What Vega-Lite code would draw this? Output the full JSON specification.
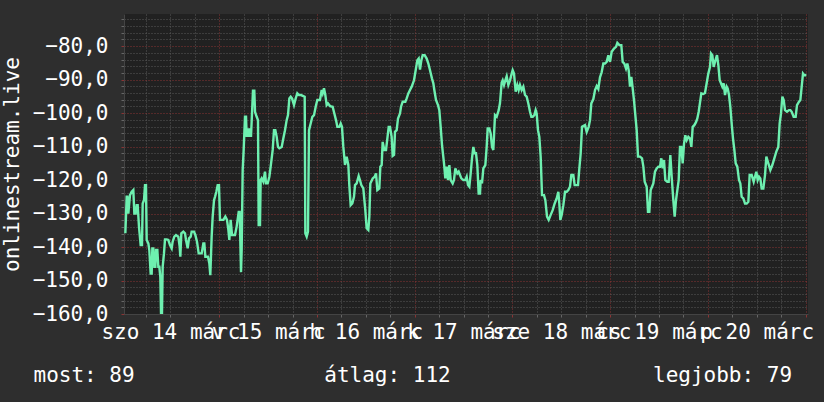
{
"$schema": "https://vega.github.io/schema/vega-lite/v6.json",
"autosize": "none",
"width": 684,
"height": 300,
"padding": {"left": 124, "top": 14, "right": 16, "bottom": 88},
"background": "#2e2e2e",
"config": {"view": {"fill": "#212121", "stroke": null}, "font": "DejaVu Sans Mono"},
"data": {"values": [
{"t":0.93,"v":-135.9},{"t":1.26,"v":-125.0},{"t":1.42,"v":-125.0},{"t":1.66,"v":-130.0},{"t":2.07,"v":-124.5},{"t":2.48,"v":-123.5},{"t":2.89,"v":-123.0},{"t":3.14,"v":-130.0},{"t":3.47,"v":-130.0},{"t":3.71,"v":-127.5},{"t":3.96,"v":-127.5},{"t":4.28,"v":-133.9},{"t":4.69,"v":-139.4},{"t":5.02,"v":-139.4},{"t":5.19,"v":-127.0},{"t":5.51,"v":-126.0},{"t":5.76,"v":-121.5},{"t":6.00,"v":-121.5},{"t":6.17,"v":-137.9},{"t":6.58,"v":-138.9},{"t":6.82,"v":-140.9},{"t":7.15,"v":-147.9},{"t":7.40,"v":-147.9},{"t":7.56,"v":-140.4},{"t":7.80,"v":-140.4},{"t":8.05,"v":-145.9},{"t":8.30,"v":-145.9},{"t":8.46,"v":-140.9},{"t":8.79,"v":-140.9},{"t":9.03,"v":-145.9},{"t":9.28,"v":-145.9},{"t":9.52,"v":-148.9},{"t":9.69,"v":-159.8},{"t":9.93,"v":-159.8},{"t":10.10,"v":-145.9},{"t":10.42,"v":-141.9},{"t":10.67,"v":-137.7},{"t":11.08,"v":-137.7},{"t":11.49,"v":-137.9},{"t":11.90,"v":-139.4},{"t":12.31,"v":-140.4},{"t":12.55,"v":-138.4},{"t":12.96,"v":-136.9},{"t":13.37,"v":-136.4},{"t":13.94,"v":-136.9},{"t":14.27,"v":-139.9},{"t":14.44,"v":-142.9},{"t":14.68,"v":-135.9},{"t":15.17,"v":-135.4},{"t":15.58,"v":-135.9},{"t":15.83,"v":-137.9},{"t":16.24,"v":-140.4},{"t":16.57,"v":-137.4},{"t":16.98,"v":-136.9},{"t":17.22,"v":-135.4},{"t":17.79,"v":-135.4},{"t":18.12,"v":-136.4},{"t":18.53,"v":-138.4},{"t":18.94,"v":-141.9},{"t":19.68,"v":-141.9},{"t":20.09,"v":-138.9},{"t":20.33,"v":-138.9},{"t":20.58,"v":-142.9},{"t":21.23,"v":-142.9},{"t":21.56,"v":-144.9},{"t":21.80,"v":-148.4},{"t":22.13,"v":-136.9},{"t":22.38,"v":-130.9},{"t":22.71,"v":-126.0},{"t":22.95,"v":-125.0},{"t":23.28,"v":-123.5},{"t":23.61,"v":-121.5},{"t":23.93,"v":-121.5},{"t":24.18,"v":-131.9},{"t":25.00,"v":-131.9},{"t":25.49,"v":-130.9},{"t":25.90,"v":-131.9},{"t":26.23,"v":-134.9},{"t":26.47,"v":-137.9},{"t":26.80,"v":-131.9},{"t":27.13,"v":-136.4},{"t":27.86,"v":-136.4},{"t":28.27,"v":-133.9},{"t":28.77,"v":-129.5},{"t":29.01,"v":-129.5},{"t":29.34,"v":-147.5},{"t":29.50,"v":-140.9},{"t":29.75,"v":-117.0},{"t":29.99,"v":-111.0},{"t":30.32,"v":-101.1},{"t":30.57,"v":-101.1},{"t":30.73,"v":-107.1},{"t":30.98,"v":-104.6},{"t":31.22,"v":-107.1},{"t":31.55,"v":-104.6},{"t":31.79,"v":-107.1},{"t":32.04,"v":-100.1},{"t":32.28,"v":-93.3},{"t":32.61,"v":-93.3},{"t":32.78,"v":-99.6},{"t":33.19,"v":-101.1},{"t":33.51,"v":-102.1},{"t":33.68,"v":-133.4},{"t":34.00,"v":-133.4},{"t":34.17,"v":-120.0},{"t":34.41,"v":-119.5},{"t":34.82,"v":-120.5},{"t":35.23,"v":-117.5},{"t":35.48,"v":-121.0},{"t":35.89,"v":-121.0},{"t":36.30,"v":-119.0},{"t":36.62,"v":-116.0},{"t":36.87,"v":-113.5},{"t":37.12,"v":-111.0},{"t":37.44,"v":-105.1},{"t":37.77,"v":-105.1},{"t":38.10,"v":-107.1},{"t":38.42,"v":-110.1},{"t":38.75,"v":-110.5},{"t":39.33,"v":-110.1},{"t":39.73,"v":-107.6},{"t":40.14,"v":-105.1},{"t":40.55,"v":-102.1},{"t":40.88,"v":-100.6},{"t":41.21,"v":-95.6},{"t":41.54,"v":-95.1},{"t":41.86,"v":-95.6},{"t":42.35,"v":-97.6},{"t":42.77,"v":-95.6},{"t":43.17,"v":-94.1},{"t":43.58,"v":-94.6},{"t":44.07,"v":-94.6},{"t":44.65,"v":-94.9},{"t":44.98,"v":-95.1},{"t":45.14,"v":-135.9},{"t":45.47,"v":-136.9},{"t":45.79,"v":-135.4},{"t":46.04,"v":-105.1},{"t":46.45,"v":-103.1},{"t":46.86,"v":-101.1},{"t":47.27,"v":-100.6},{"t":47.68,"v":-98.1},{"t":48.08,"v":-96.1},{"t":48.74,"v":-96.1},{"t":49.15,"v":-93.1},{"t":49.40,"v":-94.1},{"t":49.72,"v":-92.6},{"t":50.05,"v":-94.6},{"t":50.38,"v":-97.6},{"t":50.71,"v":-97.1},{"t":51.20,"v":-97.9},{"t":51.85,"v":-98.1},{"t":52.26,"v":-100.1},{"t":52.67,"v":-102.1},{"t":53.00,"v":-104.1},{"t":53.49,"v":-104.1},{"t":53.82,"v":-103.1},{"t":54.14,"v":-104.1},{"t":54.47,"v":-110.1},{"t":54.88,"v":-115.5},{"t":55.29,"v":-113.0},{"t":55.70,"v":-115.5},{"t":55.94,"v":-121.5},{"t":56.27,"v":-127.5},{"t":56.68,"v":-127.0},{"t":57.09,"v":-125.0},{"t":57.34,"v":-121.5},{"t":57.75,"v":-121.0},{"t":58.24,"v":-118.8},{"t":58.56,"v":-120.0},{"t":58.89,"v":-121.5},{"t":59.38,"v":-122.5},{"t":59.87,"v":-129.0},{"t":60.20,"v":-134.4},{"t":60.61,"v":-134.9},{"t":60.86,"v":-130.9},{"t":61.10,"v":-121.0},{"t":61.68,"v":-119.5},{"t":62.17,"v":-119.0},{"t":62.50,"v":-118.0},{"t":62.82,"v":-123.0},{"t":63.31,"v":-122.5},{"t":63.56,"v":-116.0},{"t":63.89,"v":-115.5},{"t":64.13,"v":-108.6},{"t":64.54,"v":-111.0},{"t":64.95,"v":-111.0},{"t":65.28,"v":-107.6},{"t":65.61,"v":-104.1},{"t":65.93,"v":-104.1},{"t":66.34,"v":-107.1},{"t":66.59,"v":-112.8},{"t":66.92,"v":-112.5},{"t":67.16,"v":-105.6},{"t":67.57,"v":-105.1},{"t":67.90,"v":-101.6},{"t":68.39,"v":-100.1},{"t":68.64,"v":-98.1},{"t":69.05,"v":-96.6},{"t":69.70,"v":-96.6},{"t":70.03,"v":-95.6},{"t":70.44,"v":-94.1},{"t":70.85,"v":-93.1},{"t":71.26,"v":-92.1},{"t":71.83,"v":-90.2},{"t":72.24,"v":-87.2},{"t":72.65,"v":-84.2},{"t":72.98,"v":-83.7},{"t":73.30,"v":-87.0},{"t":73.63,"v":-84.2},{"t":73.96,"v":-82.7},{"t":74.45,"v":-82.7},{"t":74.94,"v":-83.7},{"t":75.35,"v":-85.2},{"t":75.76,"v":-87.2},{"t":76.25,"v":-89.7},{"t":76.58,"v":-91.1},{"t":76.82,"v":-93.1},{"t":77.23,"v":-96.1},{"t":77.72,"v":-97.6},{"t":78.05,"v":-99.1},{"t":78.38,"v":-104.1},{"t":78.71,"v":-109.6},{"t":79.20,"v":-115.0},{"t":79.52,"v":-119.5},{"t":79.85,"v":-116.0},{"t":80.18,"v":-120.0},{"t":80.51,"v":-115.5},{"t":80.84,"v":-120.0},{"t":81.33,"v":-121.0},{"t":81.65,"v":-120.0},{"t":81.98,"v":-116.5},{"t":82.47,"v":-118.0},{"t":82.80,"v":-117.5},{"t":83.13,"v":-118.5},{"t":83.45,"v":-119.5},{"t":83.95,"v":-120.0},{"t":84.44,"v":-120.0},{"t":84.77,"v":-119.0},{"t":85.09,"v":-121.5},{"t":85.42,"v":-122.0},{"t":85.75,"v":-118.0},{"t":86.07,"v":-113.5},{"t":86.40,"v":-110.1},{"t":86.73,"v":-112.0},{"t":87.06,"v":-112.0},{"t":87.38,"v":-115.5},{"t":87.71,"v":-124.0},{"t":88.04,"v":-124.0},{"t":88.20,"v":-120.0},{"t":88.53,"v":-121.0},{"t":88.86,"v":-116.5},{"t":89.35,"v":-115.5},{"t":89.68,"v":-110.1},{"t":89.92,"v":-104.6},{"t":90.33,"v":-104.6},{"t":90.66,"v":-106.1},{"t":90.99,"v":-110.1},{"t":91.31,"v":-111.0},{"t":91.72,"v":-100.6},{"t":92.13,"v":-101.1},{"t":92.63,"v":-99.1},{"t":92.95,"v":-97.0},{"t":93.36,"v":-90.9},{"t":93.61,"v":-90.2},{"t":93.93,"v":-91.6},{"t":94.26,"v":-90.2},{"t":94.59,"v":-89.0},{"t":95.00,"v":-91.6},{"t":95.41,"v":-90.2},{"t":95.82,"v":-88.2},{"t":96.06,"v":-87.2},{"t":96.39,"v":-88.2},{"t":96.80,"v":-93.6},{"t":97.21,"v":-91.6},{"t":97.54,"v":-93.1},{"t":97.86,"v":-91.6},{"t":98.27,"v":-93.1},{"t":98.68,"v":-92.1},{"t":99.09,"v":-94.6},{"t":99.50,"v":-95.1},{"t":99.91,"v":-97.1},{"t":100.32,"v":-99.6},{"t":100.65,"v":-101.1},{"t":100.98,"v":-101.1},{"t":101.38,"v":-100.6},{"t":101.71,"v":-99.1},{"t":101.96,"v":-100.1},{"t":102.28,"v":-105.1},{"t":102.61,"v":-107.1},{"t":102.94,"v":-113.0},{"t":103.27,"v":-124.5},{"t":103.76,"v":-124.5},{"t":104.09,"v":-126.0},{"t":104.50,"v":-130.9},{"t":104.91,"v":-131.9},{"t":105.40,"v":-130.4},{"t":105.89,"v":-129.0},{"t":106.38,"v":-127.0},{"t":106.87,"v":-125.5},{"t":107.28,"v":-123.5},{"t":107.52,"v":-127.0},{"t":107.77,"v":-131.9},{"t":108.10,"v":-130.4},{"t":108.51,"v":-127.5},{"t":108.92,"v":-123.5},{"t":109.33,"v":-123.5},{"t":109.73,"v":-123.0},{"t":110.14,"v":-122.0},{"t":110.47,"v":-118.5},{"t":110.96,"v":-118.5},{"t":111.29,"v":-121.5},{"t":112.11,"v":-121.5},{"t":112.44,"v":-116.5},{"t":112.77,"v":-112.0},{"t":113.09,"v":-104.1},{"t":113.83,"v":-103.6},{"t":114.24,"v":-105.6},{"t":114.73,"v":-104.1},{"t":115.06,"v":-102.1},{"t":115.38,"v":-97.1},{"t":115.88,"v":-95.8},{"t":116.29,"v":-93.1},{"t":116.70,"v":-91.9},{"t":117.10,"v":-92.8},{"t":117.51,"v":-89.3},{"t":117.92,"v":-87.8},{"t":118.33,"v":-85.2},{"t":118.74,"v":-85.2},{"t":119.15,"v":-84.7},{"t":119.56,"v":-82.7},{"t":119.97,"v":-84.7},{"t":120.38,"v":-81.7},{"t":120.95,"v":-80.7},{"t":121.44,"v":-80.2},{"t":121.77,"v":-79.0},{"t":122.26,"v":-79.7},{"t":122.75,"v":-79.7},{"t":123.08,"v":-84.7},{"t":123.49,"v":-85.2},{"t":123.90,"v":-86.7},{"t":124.23,"v":-85.2},{"t":124.56,"v":-87.2},{"t":124.88,"v":-92.1},{"t":125.21,"v":-89.2},{"t":125.54,"v":-92.6},{"t":125.86,"v":-96.1},{"t":126.19,"v":-100.6},{"t":126.52,"v":-105.1},{"t":126.85,"v":-113.0},{"t":127.34,"v":-113.0},{"t":127.83,"v":-113.5},{"t":128.16,"v":-116.0},{"t":128.49,"v":-120.5},{"t":128.98,"v":-122.0},{"t":129.30,"v":-129.5},{"t":129.63,"v":-129.5},{"t":129.96,"v":-123.0},{"t":130.29,"v":-122.0},{"t":130.61,"v":-121.0},{"t":131.02,"v":-117.5},{"t":131.43,"v":-116.5},{"t":131.84,"v":-116.0},{"t":132.25,"v":-116.0},{"t":132.58,"v":-113.5},{"t":132.91,"v":-116.5},{"t":133.23,"v":-114.0},{"t":133.56,"v":-120.0},{"t":134.05,"v":-120.5},{"t":134.38,"v":-120.5},{"t":134.79,"v":-112.5},{"t":135.12,"v":-119.0},{"t":135.52,"v":-126.0},{"t":135.85,"v":-130.9},{"t":136.18,"v":-126.0},{"t":136.51,"v":-123.0},{"t":136.84,"v":-120.0},{"t":137.16,"v":-110.1},{"t":137.49,"v":-110.1},{"t":137.82,"v":-115.0},{"t":138.15,"v":-109.1},{"t":138.47,"v":-106.6},{"t":138.80,"v":-108.1},{"t":139.21,"v":-107.1},{"t":139.62,"v":-107.6},{"t":139.95,"v":-110.1},{"t":140.28,"v":-104.1},{"t":140.68,"v":-103.6},{"t":141.09,"v":-102.7},{"t":141.42,"v":-101.6},{"t":141.75,"v":-99.6},{"t":142.16,"v":-96.1},{"t":142.40,"v":-94.1},{"t":142.89,"v":-94.3},{"t":143.30,"v":-94.0},{"t":143.71,"v":-91.1},{"t":144.12,"v":-88.2},{"t":144.53,"v":-86.2},{"t":144.78,"v":-82.2},{"t":145.10,"v":-82.7},{"t":145.43,"v":-86.2},{"t":145.76,"v":-84.7},{"t":146.25,"v":-82.7},{"t":146.58,"v":-85.7},{"t":146.91,"v":-90.2},{"t":147.23,"v":-91.1},{"t":147.56,"v":-92.1},{"t":147.89,"v":-91.1},{"t":148.22,"v":-94.6},{"t":148.63,"v":-92.1},{"t":148.87,"v":-92.6},{"t":149.20,"v":-94.6},{"t":149.52,"v":-98.1},{"t":149.85,"v":-103.1},{"t":150.18,"v":-107.6},{"t":150.51,"v":-111.0},{"t":150.84,"v":-115.0},{"t":151.24,"v":-116.0},{"t":151.65,"v":-120.0},{"t":151.98,"v":-121.0},{"t":152.31,"v":-125.0},{"t":152.72,"v":-125.5},{"t":153.13,"v":-127.0},{"t":153.54,"v":-127.0},{"t":153.95,"v":-126.5},{"t":154.27,"v":-118.5},{"t":154.77,"v":-118.5},{"t":155.26,"v":-120.5},{"t":155.58,"v":-119.0},{"t":155.91,"v":-117.5},{"t":156.24,"v":-120.0},{"t":156.57,"v":-119.0},{"t":156.89,"v":-119.5},{"t":157.22,"v":-122.5},{"t":157.63,"v":-122.5},{"t":158.04,"v":-118.5},{"t":158.37,"v":-113.0},{"t":158.86,"v":-115.0},{"t":159.35,"v":-117.0},{"t":159.84,"v":-115.5},{"t":160.33,"v":-113.5},{"t":160.82,"v":-111.5},{"t":161.31,"v":-110.1},{"t":161.64,"v":-103.1},{"t":161.97,"v":-100.1},{"t":162.30,"v":-95.1},{"t":162.63,"v":-96.1},{"t":162.95,"v":-99.1},{"t":163.44,"v":-99.6},{"t":163.94,"v":-99.1},{"t":164.26,"v":-99.1},{"t":164.59,"v":-99.6},{"t":165.08,"v":-101.1},{"t":165.57,"v":-101.1},{"t":165.90,"v":-97.6},{"t":166.39,"v":-96.6},{"t":166.72,"v":-96.1},{"t":167.05,"v":-92.1},{"t":167.37,"v":-88.2},{"t":167.70,"v":-88.7},{"t":168.19,"v":-88.7}
]},
"mark": {"type": "line", "color": "#6ef0b0", "strokeWidth": 2.4, "interpolate": "linear", "clip": true},
"encoding": {
"x": {"field": "t", "type": "quantitative",
 "scale": {"domain": [0.6, 168.6], "nice": false, "zero": false},
 "axis": {
  "values": [6,12,18,24,30,36,42,48,54,60,66,72,78,84,90,96,102,108,114,120,126,132,138,144,150,156,162,168],
  "grid": true,
  "gridColor": {"condition": {"test": "datum.value % 24 === 0", "value": "#8a3434"}, "value": "#5a5a5a"},
  "gridDash": [1, 2],
  "gridWidth": 1,
  "tickColor": {"condition": {"test": "datum.value % 24 === 0", "value": "#8a3434"}, "value": "#666666"},
  "tickSize": 3,
  "domainColor": "#444444",
  "labelExpr": "datum.value % 24 === 12 ? ['szo 14 márc','v 15 márc','h 16 márc','k 17 márc','sze 18 márc','cs 19 márc','p 20 márc'][floor(datum.value / 24)] : ''",
  "labelFont": "DejaVu Sans Mono",
  "labelFontSize": 21,
  "labelColor": "#ffffff",
  "labelPadding": 4,
  "labelOverlap": false,
  "labelFlush": false,
  "labelBound": false,
  "title": "most: 89\u00a0\u00a0\u00a0\u00a0\u00a0\u00a0\u00a0\u00a0\u00a0\u00a0\u00a0\u00a0\u00a0\u00a0\u00a0átlag: 112\u00a0\u00a0\u00a0\u00a0\u00a0\u00a0\u00a0\u00a0\u00a0\u00a0\u00a0\u00a0\u00a0\u00a0\u00a0\u00a0legjobb: 79",
  "titleFont": "DejaVu Sans Mono",
  "titleFontSize": 21,
  "titleFontWeight": "normal",
  "titleColor": "#ffffff",
  "titleAlign": "left",
  "titleAnchor": null,
  "titleBaseline": "alphabetic",
  "titleX": -91,
  "titleY": 67
 }},
"y": {"field": "v", "type": "quantitative",
 "scale": {"domain": [-160, -70.4], "nice": false, "zero": false},
 "axis": {
  "values": [-160,-158,-156,-154,-152,-150,-148,-146,-144,-142,-140,-138,-136,-134,-132,-130,-128,-126,-124,-122,-120,-118,-116,-114,-112,-110,-108,-106,-104,-102,-100,-98,-96,-94,-92,-90,-88,-86,-84,-82,-80,-78,-76,-74,-72],
  "grid": true,
  "gridColor": {"condition": {"test": "datum.value % 10 === 0", "value": "#8a3434"}, "value": "#5a5a5a"},
  "gridDash": [1, 2],
  "gridWidth": 1,
  "tickColor": {"condition": {"test": "datum.value % 10 === 0", "value": "#8a3434"}, "value": "#666666"},
  "tickSize": 3,
  "domainColor": "#444444",
  "labelExpr": "datum.value % 10 === 0 ? replace(format(datum.value, '.1f'), '.', ',') : ''",
  "labelFont": "DejaVu Sans Mono",
  "labelFontSize": 21,
  "labelColor": "#ffffff",
  "labelPadding": 13,
  "labelOverlap": false,
  "labelFlush": false,
  "labelBound": false,
  "labelBaseline": "middle",
  "title": "onlinestream.live",
  "titleFont": "DejaVu Sans Mono",
  "titleFontSize": 21,
  "titleFontWeight": "normal",
  "titleColor": "#ffffff",
  "titleAngle": -90,
  "titleAlign": "center",
  "titleAnchor": null,
  "titleBaseline": "alphabetic",
  "titleX": -105.5,
  "titleY": 150
 }}
}
}
